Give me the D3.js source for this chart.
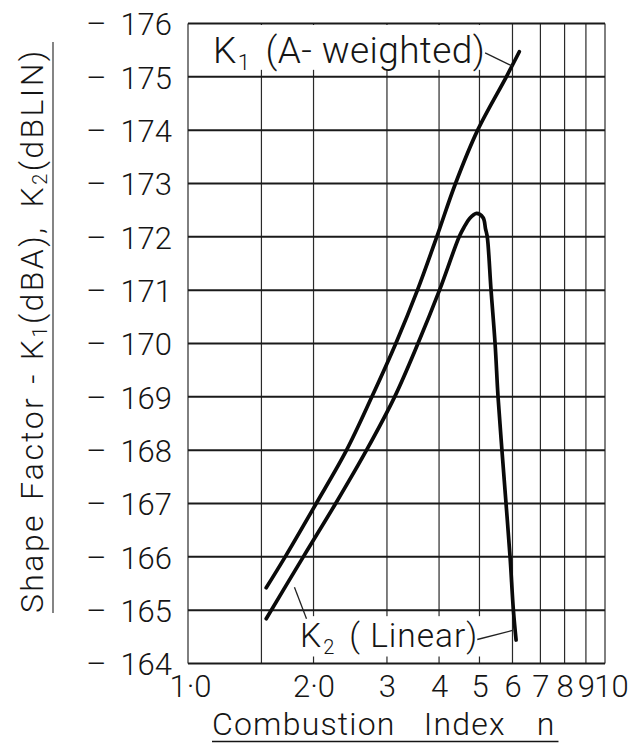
<!DOCTYPE html>
<html>
<head>
<meta charset="utf-8">
<script src="https://cdn.jsdelivr.net/npm/d3@7"></script>
<style>
  html, body { margin: 0; padding: 0; background: #fff; }
  svg { display: block; }
  text { font-family: Roboto, "Open Sans", sans-serif; font-weight: 300; fill: #151515; }
</style>
</head>
<body>
<svg id="chart" width="629" height="744"></svg>
<script>
// K1, A-weighted shape factor (dBA) against combustion index n
const k1N   = [1.54, 1.71, 2.03, 2.40, 2.76, 3.15, 3.55, 3.95, 4.38, 4.95, 5.80, 6.23];
const k1Val = [165.42, 166, 167, 168, 169, 170, 171, 172, 173, 174, 175, 175.47];

// K2, linear shape factor (dBLIN) against combustion index n
const k2N   = [1.54, 1.89, 2.26, 2.68, 3.13, 3.56, 4.01, 4.47, 4.60, 4.73, 4.92, 5.10, 5.17, 5.22, 5.33, 5.45, 5.54, 5.66, 5.79, 5.92, 6.03, 6.12];
const k2Val = [164.84, 166, 167, 168, 169, 170, 171, 172, 172.19, 172.34, 172.44, 172.36, 172.15, 172.0, 171, 170, 169, 168, 167, 166, 165, 164.44];

// Axis ticks and labels
const yTicks = [164, 165, 166, 167, 168, 169, 170, 171, 172, 173, 174, 175, 176];
const xGrid = [1, 1.5, 2, 3, 4, 5, 6, 7, 8, 9, 10];
const xTicks = [1, 2, 3, 4, 5, 6, 7, 8, 9, 10];
const xTickLabels = ["1·0", "2·0", "3", "4", "5", "6", "7", "8", "9", "10"];

const svg = d3.select("#chart");
const plot = { left: 188, right: 605, top: 23.5, bottom: 663.5 };

const x = d3.scaleLog().domain([1, 10]).range([plot.left, plot.right]);
const y = d3.scaleLinear().domain([164, 176]).range([plot.bottom, plot.top]);

// Grid: vertical lines at the log divisions, horizontal at each dB
const grid = svg.append("g");
grid.selectAll("line.v").data(xGrid).join("line")
  .attr("class", "v")
  .attr("x1", d => x(d)).attr("x2", d => x(d))
  .attr("y1", plot.top).attr("y2", plot.bottom)
  .attr("stroke", "#2a2a2a").attr("stroke-width", 1.2);
grid.selectAll("line.h").data(yTicks).join("line")
  .attr("class", "h")
  .attr("x1", plot.left).attr("x2", plot.right)
  .attr("y1", d => y(d)).attr("y2", d => y(d))
  .attr("stroke", "#1a1a1a").attr("stroke-width", 2);

// Y axis labels, each preceded by a dash
const yAxis = svg.append("g")
  .attr("transform", `translate(${plot.left},0)`)
  .call(d3.axisLeft(y).tickValues(yTicks).tickSize(0).tickPadding(16).tickFormat(d => d));
yAxis.select(".domain").remove();
yAxis.attr("font-family", null).attr("font-size", null);
yAxis.selectAll(".tick text")
  .attr("font-size", 31).attr("fill", "#151515")
  .attr("dy", "0.36em")
  .each(function(d) {
    const t = d3.select(this);
    t.text(null);
    t.append("tspan").text("–");
    t.append("tspan").attr("dx", 14).text(d);
  });

// X axis labels
const xAxis = svg.append("g")
  .attr("transform", `translate(0,${plot.bottom})`)
  .call(d3.axisBottom(x).tickValues(xTicks).tickSize(0).tickPadding(11)
    .tickFormat((d, i) => xTickLabels[i]));
xAxis.select(".domain").remove();
xAxis.attr("font-family", null).attr("font-size", null);
xAxis.selectAll(".tick text")
  .attr("font-size", 31).attr("fill", "#151515")
  .attr("dy", "0.72em")
  .attr("dx", d => d === 10 ? 6 : (d === 1 ? 2 : 0));

// Curves
const line = d3.line().x(d => x(d[0])).y(d => y(d[1])).curve(d3.curveCatmullRom.alpha(0.5));
const k1 = k1N.map((n, i) => [n, k1Val[i]]);
const k2 = k2N.map((n, i) => [n, k2Val[i]]);

// Curve labels sit on white boxes that interrupt the grid
function curveLabel(tx, ty, size, spacing, name, sub, gap, rest) {
  const g = svg.append("g");
  const bg = g.append("rect").attr("fill", "#fff");
  const t = g.append("text").attr("x", tx).attr("y", ty)
    .attr("font-size", size).attr("letter-spacing", spacing);
  t.append("tspan").text(name);
  t.append("tspan").attr("font-size", size * 0.6).attr("dx", 1).attr("dy", size * 0.2).text(sub);
  t.append("tspan").attr("dx", gap).attr("dy", -size * 0.2).text(rest);
  const b = t.node().getBBox();
  return { g, bg, b };
}

const labelK1 = curveLabel(213, 63, 37, 0.4, "K", "1", 15, "(A- weighted)");
labelK1.bg.attr("x", labelK1.b.x - 10).attr("y", plot.top + 1.5)
  .attr("width", labelK1.b.width + 14).attr("height", y(175) - 7 - plot.top - 1.5);

const labelK2 = curveLabel(300, 647, 33.5, 1, "K", "2", 14, "( Linear)");
labelK2.bg.attr("x", labelK2.b.x - 8).attr("y", y(165) + 6)
  .attr("width", labelK2.b.width + 12).attr("height", plot.bottom - 7 - y(165) - 6);

svg.append("path").datum(k1).attr("d", line)
  .attr("fill", "none").attr("stroke", "#0a0a0a").attr("stroke-width", 3.7)
  .attr("stroke-linecap", "round");
svg.append("path").datum(k2).attr("d", line)
  .attr("fill", "none").attr("stroke", "#0a0a0a").attr("stroke-width", 3.7)
  .attr("stroke-linecap", "round");

// Leader lines from labels to curves
const leader = (x1, y1, x2, y2) => svg.append("line")
  .attr("x1", x1).attr("y1", y1).attr("x2", x2).attr("y2", y2)
  .attr("stroke", "#222").attr("stroke-width", 1.3);
leader(labelK1.b.x + labelK1.b.width, y(175.45), x(6.0), y(175.2));
leader(labelK2.b.x + labelK2.b.width - 1, y(164.45), x(6.0), y(164.62));
leader(306.5, y(164.84), x(1.80), y(165.43));

// Axis titles
const xTitle = svg.append("text")
  .attr("x", 212).attr("y", 735).attr("font-size", 32).attr("letter-spacing", 1.2);
xTitle.append("tspan").text("Combustion");
xTitle.append("tspan").attr("dx", 28).text("Index");
xTitle.append("tspan").attr("dx", 31).text("n");
const xb = xTitle.node().getBBox();
svg.append("line")
  .attr("x1", xb.x).attr("x2", xb.x + xb.width + 3)
  .attr("y1", 741.5).attr("y2", 741.5)
  .attr("stroke", "#151515").attr("stroke-width", 1.6);

const yTitle = svg.append("text")
  .attr("transform", "translate(43,613) rotate(-90)")
  .attr("font-size", 32).attr("letter-spacing", 2.4);
yTitle.append("tspan").text("Shape");
yTitle.append("tspan").attr("dx", 13).text("Factor");
yTitle.append("tspan").attr("dx", 12).text("-");
yTitle.append("tspan").attr("dx", 12).text("K");
yTitle.append("tspan").attr("font-size", 20).attr("dy", 4).text("1");
yTitle.append("tspan").attr("dy", -4).text("(dBA),");
yTitle.append("tspan").attr("dx", 18).text("K");
yTitle.append("tspan").attr("font-size", 20).attr("dy", 4).text("2");
yTitle.append("tspan").attr("dy", -4).text("(dBLIN)");
svg.append("line")
  .attr("x1", 53).attr("x2", 53).attr("y1", 42).attr("y2", 613)
  .attr("stroke", "#333").attr("stroke-width", 1.2);
</script>
</body>
</html>
